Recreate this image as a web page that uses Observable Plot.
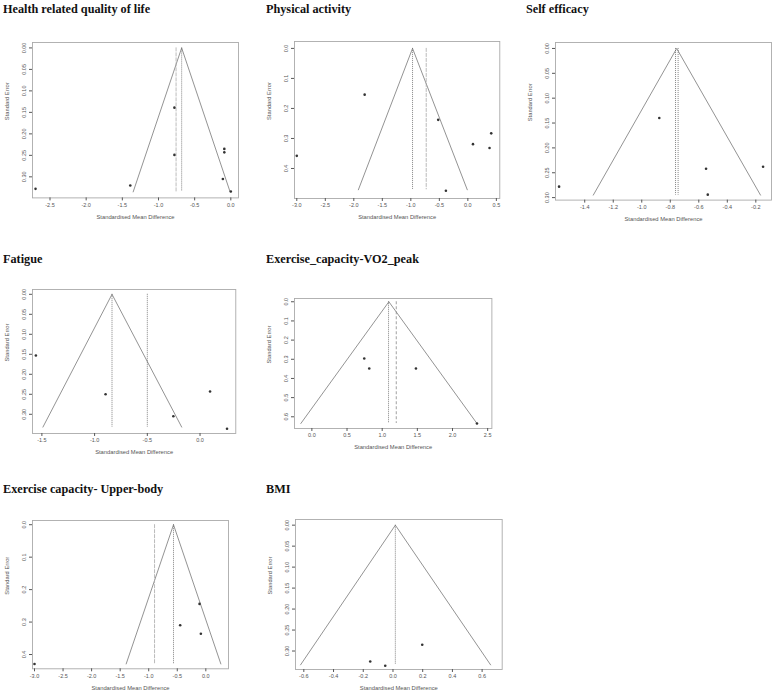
<!DOCTYPE html>
<html><head><meta charset="utf-8">
<script src="https://cdn.jsdelivr.net/npm/d3@7"></script>
<script src="https://cdn.jsdelivr.net/npm/@observablehq/plot@0.6"></script>
<style>
html,body{margin:0;padding:0;background:#fff;}
#fig{position:relative;width:773px;height:698px;overflow:hidden;background:#fff;}
.ttl{position:absolute;font-family:"Liberation Serif","Times New Roman",serif;font-weight:bold;font-size:13px;line-height:13px;color:#111;white-space:nowrap;transform-origin:0 0;transform:scaleX(0.94);}
.pnl{position:absolute;}
</style></head><body><div id="fig"></div>
<script>
// ---------- data ----------
const xLabel = "Standardised Mean Difference";
const yLabel = "Standard Error";

// Health related quality of life
const hrqolSMD = [-2.70, -1.39, -0.78, -0.78, -0.09, -0.09, -0.11, 0.00];
const hrqolSE  = [0.328, 0.320, 0.139, 0.249, 0.235, 0.243, 0.305, 0.334];
const hrqolFunnel = [-1.35, -0.68, -0.01];
const hrqolFunnelSE = [0.335, 0, 0.335];
const hrqolRefLines = [-0.757, -0.68];
const hrqolXTicks = [-2.5, -2.0, -1.5, -1.0, -0.5, 0.0];
const hrqolYTicks = [0.00, 0.05, 0.10, 0.15, 0.20, 0.25, 0.30];

// Physical activity
const paSMD = [-1.81, -0.52, 0.41, 0.09, 0.38, -3.00, -0.385];
const paSE  = [0.154, 0.238, 0.283, 0.319, 0.332, 0.358, 0.474];
const paFunnel = [-1.92, -0.97, -0.01];
const paFunnelSE = [0.471, 0, 0.471];
const paRefLines = [-0.97, -0.73];
const paXTicks = [-3.0, -2.5, -2.0, -1.5, -1.0, -0.5, 0.0, 0.5];
const paYTicks = [0.0, 0.1, 0.2, 0.3, 0.4];

// Self efficacy
const seSMD = [-0.877, -0.549, -0.149, -1.58, -0.537];
const seSE  = [0.140, 0.242, 0.238, 0.278, 0.294];
const seFunnel = [-1.34, -0.755, -0.167];
const seFunnelSE = [0.295, 0, 0.295];
const seRefLines = [-0.763, -0.745];
const seXTicks = [-1.4, -1.2, -1.0, -0.8, -0.6, -0.4, -0.2];
const seYTicks = [0.00, 0.05, 0.10, 0.15, 0.20, 0.25, 0.30];

// Fatigue
const fatSMD = [-1.557, -0.896, 0.095, -0.253, 0.256];
const fatSE  = [0.153, 0.250, 0.243, 0.305, 0.336];
const fatFunnel = [-1.49, -0.835, -0.174];
const fatFunnelSE = [0.332, 0, 0.332];
const fatRefLines = [-0.835, -0.50];
const fatXTicks = [-1.5, -1.0, -0.5, 0.0];
const fatYTicks = [0.00, 0.05, 0.10, 0.15, 0.20, 0.25, 0.30];

// Exercise capacity - VO2 peak
const vo2SMD = [0.745, 0.816, 1.48, 2.348];
const vo2SE  = [0.296, 0.348, 0.348, 0.635];
const vo2Funnel = [-0.157, 1.095, 2.348];
const vo2FunnelSE = [0.635, 0, 0.635];
const vo2RefLines = [1.09, 1.20];
const vo2XTicks = [0.0, 0.5, 1.0, 1.5, 2.0, 2.5];
const vo2YTicks = [0.0, 0.1, 0.2, 0.3, 0.4, 0.5, 0.6];

// Exercise capacity - Upper body
const ubSMD = [-0.110, -0.449, -0.087, -3.00];
const ubSE  = [0.244, 0.310, 0.336, 0.429];
const ubFunnel = [-1.395, -0.566, 0.263];
const ubFunnelSE = [0.429, 0, 0.429];
const ubRefLines = [-0.898, -0.566];
const ubXTicks = [-3.0, -2.5, -2.0, -1.5, -1.0, -0.5, 0.0];
const ubYTicks = [0.0, 0.1, 0.2, 0.3, 0.4];

// BMI
const bmiSMD = [0.197, -0.153, -0.052];
const bmiSE  = [0.285, 0.325, 0.335];
const bmiFunnel = [-0.622, 0.016, 0.657];
const bmiFunnelSE = [0.333, 0, 0.333];
const bmiRefLines = [0.016];
const bmiXTicks = [-0.6, -0.4, -0.2, 0.0, 0.2, 0.4, 0.6];
const bmiYTicks = [0.00, 0.05, 0.10, 0.15, 0.20, 0.25, 0.30];

// ---------- layout ----------
const panels = [
  {title: "Health related quality of life", tx: 3.3, tb: 13.3, frame: [31.7, 237.7, 42.3, 197.7],
   xdom: [-2.742, 0.106], ydom: [-0.0126, 0.349], yd: 2,
   smd: hrqolSMD, se: hrqolSE, fx: hrqolFunnel, fse: hrqolFunnelSE, rl: hrqolRefLines, rs: ["light", "dot"], xt: hrqolXTicks, yt: hrqolYTicks},
  {title: "Physical activity", tx: 266, tb: 13.3, frame: [294, 499.3, 40.7, 197.7],
   xdom: [-3.04, 0.56], ydom: [-0.023, 0.5], yd: 1,
   smd: paSMD, se: paSE, fx: paFunnel, fse: paFunnelSE, rl: paRefLines, rs: ["dot", "light"], xt: paXTicks, yt: paYTicks},
  {title: "Self efficacy", tx: 526, tb: 13.3, frame: [555, 771, 41.7, 199.3],
   xdom: [-1.605, -0.09], ydom: [-0.012, 0.305], yd: 2,
   smd: seSMD, se: seSE, fx: seFunnel, fse: seFunnelSE, rl: seRefLines, rs: ["dot", "dot"], xt: seXTicks, yt: seYTicks},
  {title: "Fatigue", tx: 3.3, tb: 262.7, frame: [31.7, 235, 289.3, 433.3],
   xdom: [-1.589, 0.339], ydom: [-0.012, 0.348], yd: 2,
   smd: fatSMD, se: fatSE, fx: fatFunnel, fse: fatFunnelSE, rl: fatRefLines, rs: ["dot", "dot"], xt: fatXTicks, yt: fatYTicks},
  {title: "Exercise_capacity-VO2_peak", tx: 266, tb: 263.3, frame: [294.3, 491.7, 298.3, 428.3],
   xdom: [-0.247, 2.56], ydom: [-0.017, 0.661], yd: 1,
   smd: vo2SMD, se: vo2SE, fx: vo2Funnel, fse: vo2FunnelSE, rl: vo2RefLines, rs: ["dot", "dash"], xt: vo2XTicks, yt: vo2YTicks},
  {title: "Exercise capacity- Upper-body", tx: 3.3, tb: 492.7, frame: [32.3, 228.3, 520, 668.3],
   xdom: [-3.035, 0.397], ydom: [-0.013, 0.444], yd: 1,
   smd: ubSMD, se: ubSE, fx: ubFunnel, fse: ubFunnelSE, rl: ubRefLines, rs: ["light", "dot"], xt: ubXTicks, yt: ubYTicks},
  {title: "BMI", tx: 266, tb: 492.7, frame: [295, 501.7, 519.3, 669.3],
   xdom: [-0.656, 0.735], ydom: [-0.0135, 0.344], yd: 2,
   smd: bmiSMD, se: bmiSE, fx: bmiFunnel, fse: bmiFunnelSE, rl: bmiRefLines, rs: ["dot"], xt: bmiXTicks, yt: bmiYTicks}
];

const lineStyle = {
  dot:   {stroke: "#666", strokeDasharray: "1,1", strokeWidth: 0.8},
  light: {stroke: "#aaa", strokeDasharray: "4,1", strokeWidth: 0.8},
  dash:  {stroke: "#888", strokeDasharray: "3,2", strokeWidth: 0.8}
};

const fig = document.getElementById("fig");
const mL = 31, mR = 2, mT = 4, mB = 28;

for (const p of panels) {
  const t = document.createElement("div");
  t.className = "ttl";
  t.textContent = p.title;
  t.style.left = p.tx + "px";
  t.style.top = (p.tb - 10.9) + "px";
  fig.appendChild(t);

  const [fl, fr, ft, fb] = p.frame;
  const width = fr - fl + mL + mR;
  const height = fb - ft + mT + mB;
  const pts = p.smd.map((x, i) => ({x, y: p.se[i]}));
  const funnel = p.fx.map((x, i) => ({x, y: p.fse[i]}));
  const baseSE = Math.max(...p.fse);

  const marks = [
    Plot.frame({stroke: "#aaa", strokeWidth: 0.9}),
    Plot.line(funnel, {x: "x", y: "y", stroke: "#777", strokeWidth: 0.8}),
    ...p.rl.map((v, i) => Plot.ruleX([v], {y1: 0, y2: baseSE, ...lineStyle[p.rs[i]]})),
    Plot.dot(pts, {x: "x", y: "y", r: 1.3, fill: "#333", stroke: "none"}),
    Plot.axisX({ticks: p.xt, tickFormat: d => d.toFixed(1), tickSize: 3, tickPadding: 2, label: null, fontSize: 5.5}),
    Plot.axisY({ticks: p.yt, tickFormat: d => d.toFixed(p.yd), tickSize: 3, tickPadding: 4, tickRotate: -90, label: null, fontSize: 5.5}),
    Plot.text([xLabel], {frameAnchor: "bottom", dy: 21, text: d => d, fontSize: 5.8, fill: "#555"}),
    Plot.text([yLabel], {frameAnchor: "left", dx: -25, rotate: -90, text: d => d, fontSize: 5.8, fill: "#555"})
  ];

  const svg = Plot.plot({
    width, height,
    marginLeft: mL, marginRight: mR, marginTop: mT, marginBottom: mB,
    x: {domain: p.xdom},
    y: {domain: p.ydom, reverse: true},
    style: {fontFamily: "'Liberation Sans', Arial, sans-serif", color: "#555", background: "transparent", overflow: "visible"},
    marks
  });
  svg.classList.add("pnl");
  svg.style.position = "absolute";
  svg.style.left = (fl - mL) + "px";
  svg.style.top = (ft - mT) + "px";
  fig.appendChild(svg);
}
</script>
</body></html>
